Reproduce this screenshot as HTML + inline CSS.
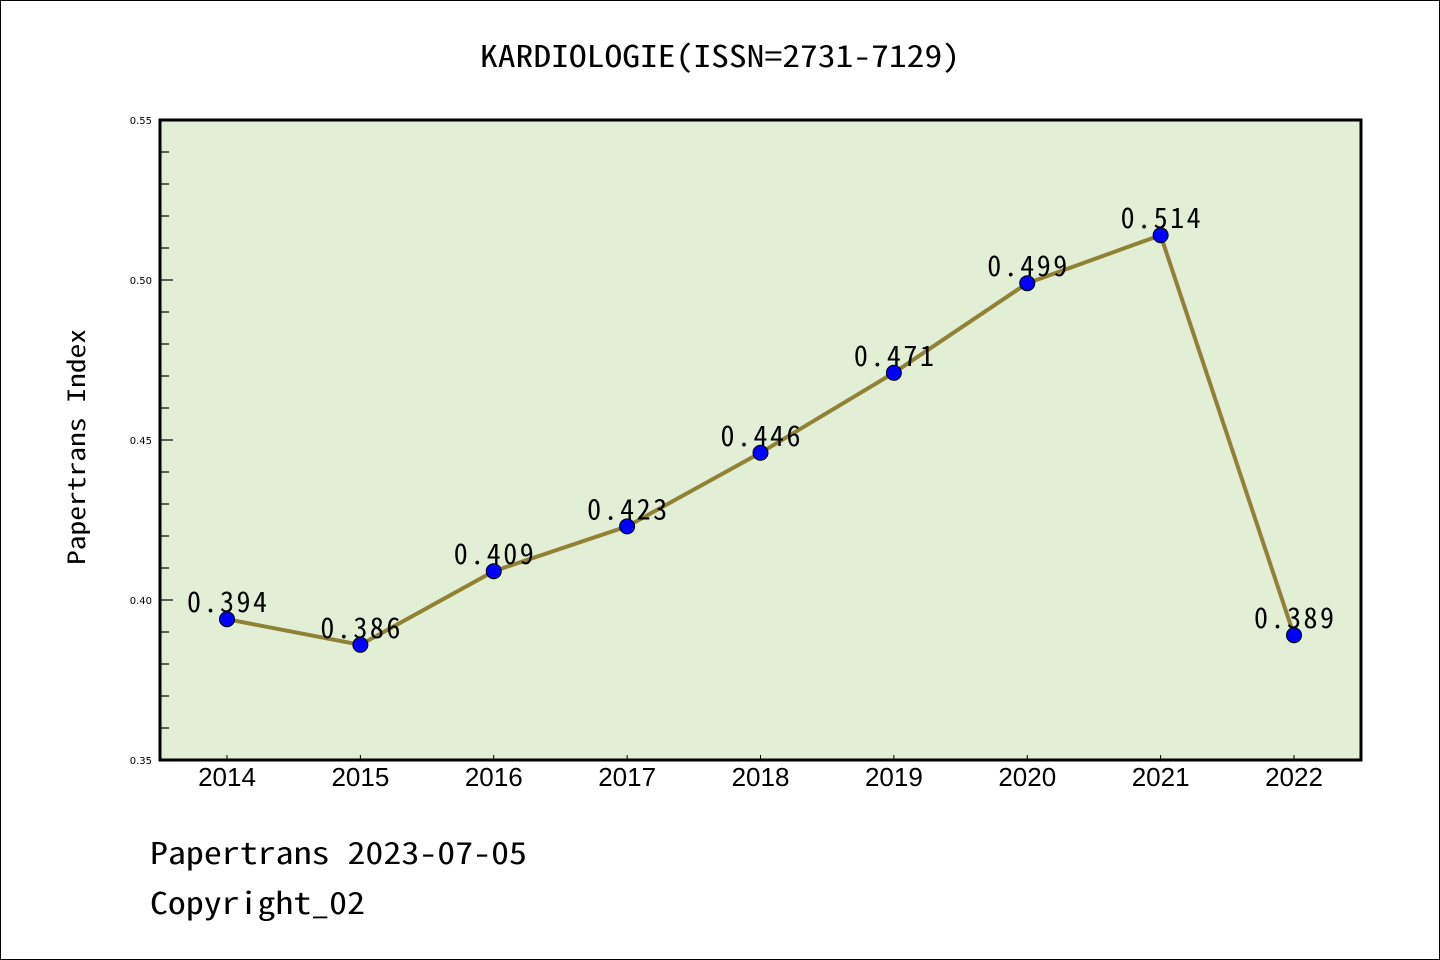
<!DOCTYPE html>
<html><head><meta charset="utf-8">
<style>
html,body{margin:0;padding:0;background:#fff;}
svg{display:block;}
text{font-family:"WenQuanYi Zen Hei Mono","Noto Sans Mono CJK SC","Liberation Mono",monospace;}
</style></head>
<body>
<svg id="chart" width="1440" height="960" viewBox="0 0 1440 960">
<rect x="0.5" y="0.5" width="1439" height="959" fill="#fff" stroke="#000" stroke-width="1"/>
<text x="480" y="67" font-size="30" textLength="480" lengthAdjust="spacingAndGlyphs">KARDIOLOGIE(ISSN=2731-7129)</text>
<rect x="160" y="120" width="1201" height="640" fill="#e2efd5"/>
<g id="axes"></g>
<g id="series"></g>
<rect x="160" y="120" width="1201" height="640" fill="none" stroke="#000" stroke-width="3"/>
<text transform="translate(85,565) rotate(-90)" font-size="24" textLength="236" lengthAdjust="spacingAndGlyphs">Papertrans Index</text>
<text x="150" y="864" font-size="30" textLength="377" lengthAdjust="spacingAndGlyphs">Papertrans 2023-07-05</text>
<text x="150" y="914" font-size="30" textLength="215" lengthAdjust="spacingAndGlyphs">Copyright_02</text>
</svg>
<script>
const years = [2014,2015,2016,2017,2018,2019,2020,2021,2022];
const values = [0.394,0.386,0.409,0.423,0.446,0.471,0.499,0.514,0.389];
const yTicks = [0.35,0.40,0.45,0.50,0.55];
const yTickLabels = ["0.35","0.40","0.45","0.50","0.55"];

const NS="http://www.w3.org/2000/svg";
const yMin=0.35,yMax=0.55,plotTop=120,plotBottom=760;
function yPos(v){return plotBottom-(v-yMin)/(yMax-yMin)*(plotBottom-plotTop);}
function xPos(i){return 227+i*(1294-227)/(years.length-1);}
function mk(tag,attrs,parent){const e=document.createElementNS(NS,tag);for(const k in attrs)e.setAttribute(k,attrs[k]);parent.appendChild(e);return e;}
const axes=document.getElementById('axes'),series=document.getElementById('series');

for(let k=0;k<=20;k++){
  const v=yMin+k*0.01;
  const y=yPos(v);
  const major=(k%5)===0;
  const t=mk('line',{x1:160,x2:major?173:169,y1:y,y2:y,stroke:'#000','stroke-width':1.2},axes);
  
  
}
yTicks.forEach((v,i)=>{
  const t=mk('text',{x:152,y:yPos(v)+4,'text-anchor':'end','font-size':10,style:'font-family:"DejaVu Sans",sans-serif'},axes);
  t.textContent=yTickLabels[i];
  
  
});
years.forEach((yr,i)=>{
  const x=xPos(i);
  const t=mk('line',{x1:x,x2:x,y1:760,y2:755,stroke:'#000','stroke-width':1},axes);
  
  
  const l=mk('text',{x:x,y:786,'text-anchor':'middle','font-size':26,style:'font-family:"Liberation Sans",sans-serif'},axes);
  l.textContent=yr;
  
  
});
const pts=values.map((v,i)=>xPos(i)+','+yPos(v)).join(' ');
const line=mk('polyline',{points:pts,fill:'none',stroke:'#8f8237','stroke-width':4,'stroke-linejoin':'round'},series);


values.forEach((v,i)=>{
  const c=mk('circle',{cx:xPos(i),cy:yPos(v),r:7.5,fill:'#0000ff',stroke:'#000','stroke-width':1},series);
  
  
});
values.forEach((v,i)=>{
  const t=mk('text',{x:xPos(i)-40,y:yPos(v)-7,'font-size':28,textLength:80,lengthAdjust:'spacing'},series);
  t.textContent=v.toFixed(3);
  
  
});
</script>
</body></html>
